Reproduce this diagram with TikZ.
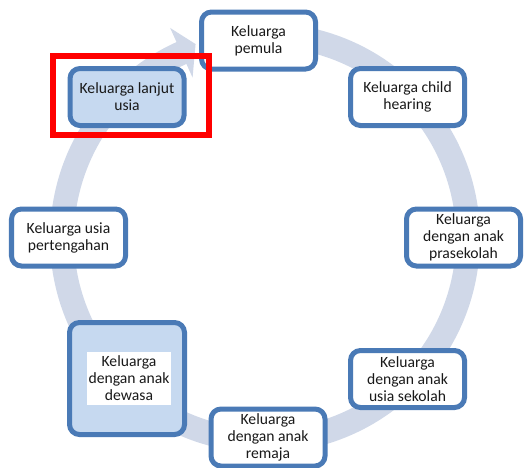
\documentclass[tikz,border=0pt]{standalone}
\usepackage{fontspec}
\setmainfont{Carlito}
\usetikzlibrary{calc}
\definecolor{garis}{RGB}{74,122,182}
\definecolor{isibiru}{RGB}{198,217,240}
\definecolor{lingkar}{RGB}{208,216,232}
\tikzset{
	kotak/.style={draw=garis, line width=0.1cm, rounded corners=0.2cm, fill=white,
		minimum width=2.28cm, minimum height=1.14cm, align=center, inner sep=1pt,
		font=\fontsize{8.9}{9.7}\selectfont, text=black!90},
	kotakbiru/.style={kotak, fill=isibiru}
}

\begin{document}
\begin{tikzpicture}
				%%%%% START %%%%%
				\useasboundingbox (0, 0) rectangle (10.52, 9.34);
				
				% ring with arrow head
				\fill[lingkar] (5.3, 4.58) ++(85:4.3) arc (85:-245.7:4.3)
					-- ($(5.3, 4.58)+(-245.7:4.61)$) -- ($(5.3, 4.58)+(-250.3:4.12)$)
					-- ($(5.3, 4.58)+(-245.7:3.52)$) -- ($(5.3, 4.58)+(-245.7:3.82)$)
					arc (-245.7:85:3.82) -- cycle;
				
				\node[kotak] (pemula) at (5.17, 8.53) {Keluarga\\pemula};
				\node[kotak] (hearing) at (8.15, 7.40) {Keluarga child\\hearing};
				\node[kotak] (prasekolah) at (9.27, 4.59) {Keluarga\\dengan anak\\prasekolah};
				\node[kotak] (sekolah) at (8.15, 1.76) {Keluarga\\dengan anak\\usia sekolah};
				\node[kotak] (remaja) at (5.36, 0.59) {Keluarga\\dengan anak\\remaja};
				\node[kotakbiru, minimum width=2.3cm, minimum height=2.24cm] (dewasa) at (2.54, 1.77) {};
				\node[fill=white, minimum width=1.68cm, minimum height=1.06cm, align=center, inner sep=0pt,
					font=\fontsize{8.9}{9.7}\selectfont, text=black!90] (dewasateks) at (2.58, 1.77) {Keluarga\\dengan anak\\dewasa};
				\node[kotak] (pertengahan) at (1.37, 4.59) {Keluarga usia\\pertengahan};
				\node[kotakbiru] (lanjut) at (2.54, 7.40) {Keluarga lanjut\\usia};
				
				\draw[red, line width=0.12cm] (1.06, 6.64) rectangle (4.18, 8.22);
				%%%%% END %%%%%
\end{tikzpicture}
\end{document}
